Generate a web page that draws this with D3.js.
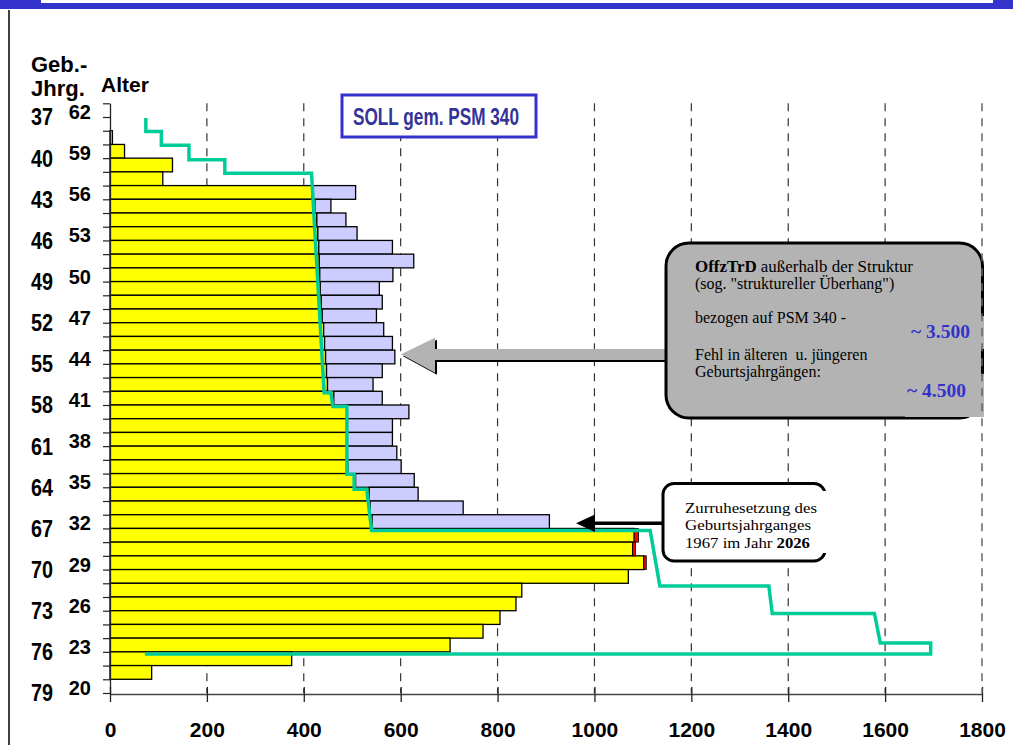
<!DOCTYPE html>
<html>
<head>
<meta charset="utf-8">
<script src="https://cdn.jsdelivr.net/npm/d3@7"></script>
<style>
  body { margin: 0; background: #fff; }
  svg { display: block; }
</style>
</head>
<body>
<svg id="chart" width="1013" height="745"></svg>
<script>
// Altersjahrgaenge von oben (62) nach unten (20)
const alter = [62, 61, 60, 59, 58, 57, 56, 55, 54, 53, 52, 51, 50, 49, 48, 47, 46, 45, 44, 43, 42,
               41, 40, 39, 38, 37, 36, 35, 34, 33, 32, 31, 30, 29, 28, 27, 26, 25, 24, 23, 22, 21, 20];
const alterLabels = [62, 59, 56, 53, 50, 47, 44, 41, 38, 35, 32, 29, 26, 23, 20];
const jahrgangLabels = ["37", "40", "43", "46", "49", "52", "55", "58", "61", "64", "67", "70", "73", "76", "79"];
const xTicks = [0, 200, 400, 600, 800, 1000, 1200, 1400, 1600, 1800];

// gelb: innerhalb der Struktur
const innerhalb = [0, 0, 5, 30, 129, 109, 417, 423, 427, 429, 431, 432, 433, 434, 436, 438, 441, 443, 445, 447, 449,
                   462, 489, 490, 490, 490, 491, 507, 535, 537, 541, 1082, 1079, 1102, 1070, 850, 838, 805, 770, 702, 375, 86, 0];
// lila: struktureller Ueberhang
const ueberhang = [0, 0, 0, 0, 0, 0, 90, 33, 60, 81, 152, 195, 151, 122, 126, 112, 124, 140, 143, 115, 94,
                   100, 128, 93, 93, 102, 110, 121, 101, 192, 366, 0, 0, 0, 0, 0, 0, 0, 0, 0, 0, 0, 0];
// rot
const rot = [0, 0, 0, 0, 0, 0, 0, 0, 0, 0, 0, 0, 0, 0, 0, 0, 0, 0, 0, 0, 0,
             0, 0, 0, 0, 0, 0, 0, 0, 0, 0, 9, 6, 5, 0, 0, 0, 0, 0, 0, 0, 0, 0];

// SOLL-Linie (Wert, Position in Jahrgangs-Zeilen von oben)
const sollWert = [74, 74, 106, 106, 163, 163, 237, 237, 416, 442, 456, 460, 489, 489, 504, 504, 530, 540,
                  1115, 1135, 1360, 1367, 1578, 1590, 1694, 1694, 72];
const sollPos = [1.08, 2.05, 2.05, 3.05, 3.05, 4.12, 4.12, 5.1, 5.1, 21.1, 21.1, 22.1, 22.1, 27.05, 27.05, 28.15, 28.15, 31.15,
                 31.15, 35.2, 35.2, 37.2, 37.2, 39.35, 39.35, 40.15, 40.15];

const svg = d3.select("#chart");
const plotTop = 103.3, plotBottom = 693, plotLeft = 110, plotRight = 982;

const x = d3.scaleLinear().domain([0, 1800]).range([plotLeft, plotRight]);
const y = d3.scaleBand().domain(alter).range([plotTop, plotBottom]).padding(0);
const yPos = d3.scaleLinear().domain([0, alter.length]).range([plotTop, plotBottom]);

// Kopfbalken und linker Rand
svg.append("rect").attr("x", 0).attr("y", 0).attr("width", 1013).attr("height", 9).attr("fill", "#3333cc");
svg.append("rect").attr("x", 41).attr("y", 0).attr("width", 952).attr("height", 3).attr("fill", "#fff");
svg.append("line").attr("x1", 9).attr("x2", 9).attr("y1", 10).attr("y2", 745)
    .attr("stroke", "#000").attr("stroke-width", 1.5);

// Gitterlinien
const grid = svg.append("g");
grid.selectAll("line")
    .data(xTicks.filter(d => d > 0 && d < 1800))
    .enter().append("line")
    .attr("x1", d => x(d)).attr("x2", d => x(d))
    .attr("y1", plotTop).attr("y2", plotBottom)
    .attr("stroke", "#333").attr("stroke-width", 1.2)
    .attr("stroke-dasharray", "8,7");

// Balken
const rows = alter.map((a, i) => ({ alter: a, gelb: innerhalb[i], lila: ueberhang[i], rot: rot[i] }));
const bars = svg.append("g").attr("stroke", "#000").attr("stroke-width", 1.3);
bars.selectAll(".gelb")
    .data(rows.filter(d => d.gelb > 0))
    .enter().append("rect")
    .attr("class", "gelb")
    .attr("x", x(0))
    .attr("y", d => y(d.alter))
    .attr("width", d => x(d.gelb) - x(0))
    .attr("height", y.bandwidth())
    .attr("fill", "#ffff00");
bars.selectAll(".lila")
    .data(rows.filter(d => d.lila > 0))
    .enter().append("rect")
    .attr("class", "lila")
    .attr("x", d => x(d.gelb))
    .attr("y", d => y(d.alter))
    .attr("width", d => x(d.gelb + d.lila) - x(d.gelb))
    .attr("height", y.bandwidth())
    .attr("fill", "#ccccff");
bars.selectAll(".rot")
    .data(rows.filter(d => d.rot > 0))
    .enter().append("rect")
    .attr("class", "rot")
    .attr("x", d => x(d.gelb))
    .attr("y", d => y(d.alter))
    .attr("width", d => x(d.gelb + d.rot) - x(d.gelb))
    .attr("height", y.bandwidth())
    .attr("fill", "#ff0000")
    .attr("stroke-width", 0.8);

// SOLL-Linie
const line = d3.line().x(d => x(d[0])).y(d => yPos(d[1]));
svg.append("path")
    .datum(d3.zip(sollWert, sollPos))
    .attr("d", line)
    .attr("fill", "none")
    .attr("stroke", "#00cc99")
    .attr("stroke-width", 3.5);

// Achsen
const xAxis = svg.append("g")
    .attr("transform", `translate(0,${plotBottom + 1})`)
    .call(d3.axisBottom(x).tickValues(xTicks).tickFormat(d3.format("d")).tickSizeOuter(0));
xAxis.select(".domain").attr("stroke", "#444").attr("stroke-width", 1.3);
xAxis.selectAll(".tick line").attr("y1", -7).attr("y2", 8).attr("stroke", "#222").attr("stroke-width", 1.3);
xAxis.selectAll(".tick text")
    .attr("y", 42.5).attr("dy", null)
    .attr("font-family", "'Liberation Sans', Arial, sans-serif")
    .attr("font-weight", "bold").attr("font-size", 21).attr("fill", "#000");

const yAxis = svg.append("g")
    .attr("transform", `translate(${plotLeft},0)`)
    .call(d3.axisLeft(yPos).tickValues(d3.range(0, alter.length + 1)).tickSize(7).tickSizeOuter(0).tickFormat(""));
yAxis.select(".domain").attr("stroke", "#222").attr("stroke-width", 1.3);
yAxis.selectAll(".tick line").attr("stroke", "#222").attr("stroke-width", 1.2);

// Beschriftung links
const font = "'Liberation Sans', Arial, sans-serif";
svg.append("g").selectAll("text")
    .data(alterLabels)
    .enter().append("text")
    .attr("x", 91)
    .attr("y", d => y(d) + y.bandwidth() / 2 + 8.9)
    .attr("text-anchor", "end")
    .attr("font-family", font).attr("font-weight", "bold").attr("font-size", 20)
    .text(d => d);
svg.append("g").selectAll("text")
    .data(jahrgangLabels)
    .enter().append("text")
    .attr("x", 31)
    .attr("y", (d, i) => y(alterLabels[i]) + y.bandwidth() / 2 + 15.3)
    .attr("textLength", 22).attr("lengthAdjust", "spacingAndGlyphs")
    .attr("font-family", font).attr("font-weight", "bold").attr("font-size", 23)
    .text(d => d);

svg.append("text").attr("x", 31).attr("y", 72).attr("font-family", font)
    .attr("font-weight", "bold").attr("font-size", 22).text("Geb.-");
svg.append("text").attr("x", 31).attr("y", 95.5).attr("font-family", font)
    .attr("font-weight", "bold").attr("font-size", 22).text("Jhrg.");
svg.append("text").attr("x", 101).attr("y", 92).attr("font-family", font)
    .attr("font-weight", "bold").attr("font-size", 21).text("Alter");

// Titelkasten
svg.append("rect").attr("x", 342).attr("y", 95).attr("width", 194).attr("height", 42)
    .attr("fill", "#fff").attr("stroke", "#3333cc").attr("stroke-width", 3);
svg.append("text").attr("x", 353).attr("y", 124.5)
    .attr("textLength", 166).attr("lengthAdjust", "spacingAndGlyphs")
    .attr("font-family", font).attr("font-weight", "bold").attr("font-size", 23)
    .attr("fill", "#333399").text("SOLL gem. PSM 340");

// grauer Pfeil + Kasten
const serif = "'Liberation Serif', 'Times New Roman', serif";
const arrowPts = [[401, 354.3], [435, 337.7], [435, 349], [667, 349], [667, 360], [435, 360], [435, 372.7]];
svg.append("polygon").attr("points", arrowPts.map(p => [p[0] + 2, p[1] + 2].join(",")).join(" ")).attr("fill", "#000");
svg.append("polygon").attr("points", arrowPts.map(p => p.join(",")).join(" ")).attr("fill", "#b3b3b3");

svg.append("rect").attr("x", 666).attr("y", 243).attr("width", 316.5).attr("height", 175).attr("rx", 23)
    .attr("fill", "#b3b3b3").attr("stroke", "#000").attr("stroke-width", 3);
svg.append("rect").attr("x", 905).attr("y", 316).attr("width", 79).attr("height", 33).attr("fill", "#b3b3b3");
svg.append("rect").attr("x", 905).attr("y", 374).attr("width", 79).attr("height", 43).attr("fill", "#b3b3b3");

const box1 = svg.append("g").attr("font-family", serif).attr("font-size", 16).attr("fill", "#000");
const l1 = box1.append("text").attr("x", 695).attr("y", 272.3).attr("textLength", 218).attr("lengthAdjust", "spacingAndGlyphs");
l1.append("tspan").attr("font-weight", "bold").text("OffzTrD");
l1.append("tspan").text(" außerhalb der Struktur");
box1.append("text").attr("x", 695).attr("y", 289.3).text("(sog. \"struktureller Überhang\")");
box1.append("text").attr("x", 695).attr("y", 323.3).text("bezogen auf PSM 340 -");
box1.append("text").attr("x", 695).attr("y", 360).style("white-space", "pre").text("Fehl in älteren  u. jüngeren");
box1.append("text").attr("x", 695).attr("y", 377.3).text("Geburtsjahrgängen:");
box1.append("text").attr("x", 970).attr("y", 337.7).attr("text-anchor", "end")
    .attr("font-weight", "bold").attr("font-size", 19.5).attr("fill", "#3333cc").text("~ 3.500");
box1.append("text").attr("x", 966).attr("y", 396.7).attr("text-anchor", "end")
    .attr("font-weight", "bold").attr("font-size", 19.5).attr("fill", "#3333cc").text("~ 4.500");

// schwarzer Pfeil + Kasten Zurruhesetzung
svg.append("line").attr("x1", 664).attr("x2", 590).attr("y1", 523.3).attr("y2", 523.3)
    .attr("stroke", "#000").attr("stroke-width", 3.5);
svg.append("polygon").attr("points", "576,523.3 595,514.5 595,532").attr("fill", "#000");
svg.append("rect").attr("x", 663).attr("y", 483.5).attr("width", 162).attr("height", 77.5).attr("rx", 11)
    .attr("fill", "#fff").attr("stroke", "#000").attr("stroke-width", 3);
svg.append("rect").attr("x", 815).attr("y", 491).attr("width", 14).attr("height", 62).attr("fill", "#fff");
const box2 = svg.append("g").attr("font-family", serif).attr("font-size", 15).attr("fill", "#000");
box2.append("text").attr("x", 685).attr("y", 513.3).attr("textLength", 132).attr("lengthAdjust", "spacingAndGlyphs")
    .text("Zurruhesetzung des");
box2.append("text").attr("x", 685).attr("y", 530).attr("textLength", 126).attr("lengthAdjust", "spacingAndGlyphs")
    .text("Geburtsjahrganges");
const l3 = box2.append("text").attr("x", 685).attr("y", 547.7).attr("textLength", 125).attr("lengthAdjust", "spacingAndGlyphs");
l3.append("tspan").text("1967 im Jahr ");
l3.append("tspan").attr("font-weight", "bold").text("2026");

// letzte Gitterlinie (1800) liegt ueber dem Kasten
svg.append("line")
    .attr("x1", x(1800)).attr("x2", x(1800)).attr("y1", plotTop).attr("y2", plotBottom)
    .attr("stroke", "#666").attr("stroke-width", 1.5).attr("stroke-dasharray", "8,7");
</script>
</body>
</html>
